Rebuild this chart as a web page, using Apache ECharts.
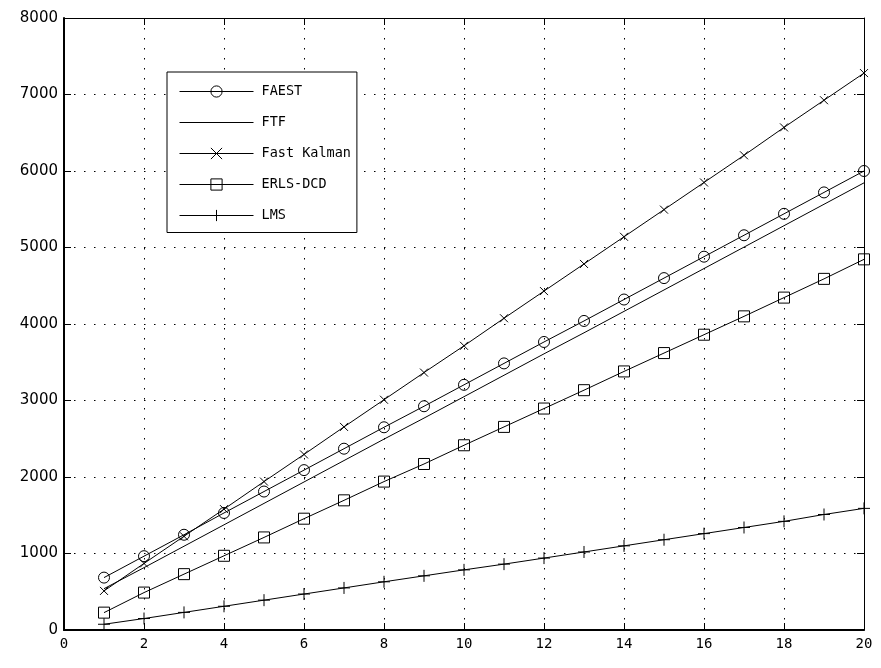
<!DOCTYPE html>
<html>
<head>
<meta charset="utf-8">
<script src="https://cdn.jsdelivr.net/npm/echarts@6/dist/echarts.min.js"></script>
<style>
  html, body { margin: 0; padding: 0; background: #fff; }
  #chart { width: 881px; height: 668px; }
</style>
</head>
<body>
<div id="chart"></div>
<script>
// Filter length values on the horizontal axis
const xValues = [1, 2, 3, 4, 5, 6, 7, 8, 9, 10, 11, 12, 13, 14, 15, 16, 17, 18, 19, 20];

// Complexity per algorithm
const faest = [685, 965, 1245, 1530, 1810, 2090, 2370, 2650, 2925, 3205, 3485, 3765, 4040, 4320, 4600, 4880, 5160, 5440, 5720, 6000];
const ftf = [540, 815, 1095, 1375, 1655, 1935, 2215, 2495, 2770, 3050, 3330, 3610, 3885, 4165, 4445, 4725, 5005, 5285, 5565, 5845];
const fastKalman = [511, 870, 1225, 1580, 1940, 2295, 2655, 3010, 3365, 3715, 4075, 4430, 4785, 5140, 5495, 5850, 6205, 6570, 6925, 7280];
const erlsDcd = [227, 489, 730, 970, 1210, 1455, 1695, 1940, 2170, 2415, 2655, 2895, 3135, 3380, 3620, 3860, 4100, 4345, 4590, 4845];
const lms = [75, 150, 230, 310, 390, 470, 550, 630, 708, 786, 861, 940, 1020, 1100, 1180, 1260, 1340, 1420, 1510, 1590];

const seriesNames = ['FAEST', 'FTF', 'Fast Kalman', 'ERLS-DCD', 'LMS'];

const xTicks = { min: 0, max: 20, interval: 2 };
const yTicks = { min: 0, max: 8000, interval: 1000 };

const FONT = 'DejaVu Sans Mono';
const crossX = 'path://M0,0L10,10M10,0L0,10';
const crossPlus = 'path://M5,0L5,10M0,5L10,5';
const clear = 'rgba(0,0,0,0)';

function pairs(vals) {
  return xValues.map((x, i) => [x, vals[i]]);
}

function lineSeries(name, vals, symbol, size) {
  return {
    name: name,
    type: 'line',
    data: pairs(vals),
    symbol: symbol,
    symbolSize: size,
    showSymbol: symbol !== 'none',
    lineStyle: { color: '#000', width: 1 },
    itemStyle: { color: clear, borderColor: '#000', borderWidth: 1 },
    emphasis: { disabled: true },
    animation: false,
    z: 3
  };
}

// The plain line entry shows no marker in the key
const legendData = seriesNames.map(n => n === 'FTF'
  ? { name: n, itemStyle: { color: clear, borderColor: clear, borderWidth: 0 } }
  : { name: n });

const dotted = { color: '#000', width: 1, type: [1.5, 8.5] };

const chart = echarts.init(document.getElementById('chart'));
chart.setOption({
  backgroundColor: '#fff',
  animation: false,
  grid: { left: 64, right: 17, top: 18, bottom: 38 },
  legend: {
    orient: 'vertical',
    left: 167,
    top: 72,
    data: legendData,
    backgroundColor: '#fff',
    borderColor: '#000',
    borderWidth: 1,
    padding: [12.5, 6, 10, 12],
    itemWidth: 74,
    itemHeight: 14,
    itemGap: 17,
    lineStyle: { color: '#000', width: 1 },
    itemStyle: { borderWidth: 1 },
    textStyle: { fontFamily: FONT, fontSize: 13.5, color: '#000', padding: [0, 0, 0, 3] },
    selectedMode: false
  },
  xAxis: [
    {
      type: 'value',
      min: xTicks.min, max: xTicks.max, interval: xTicks.interval,
      axisLine: { show: true, onZero: false, lineStyle: { color: '#000', width: 2 } },
      axisTick: { show: true, inside: true, length: 7, lineStyle: { color: '#000', width: 1 } },
      axisLabel: { color: '#000', fontFamily: FONT, fontSize: 14, margin: 7 },
      splitLine: { show: true, lineStyle: dotted }
    },
    {
      type: 'value', position: 'top',
      min: xTicks.min, max: xTicks.max, interval: xTicks.interval,
      axisLine: { show: true, onZero: false, lineStyle: { color: '#000', width: 1 } },
      axisTick: { show: true, inside: true, length: 7, lineStyle: { color: '#000' } },
      axisLabel: { show: false },
      splitLine: { show: false }
    }
  ],
  yAxis: [
    {
      type: 'value',
      min: yTicks.min, max: yTicks.max, interval: yTicks.interval,
      axisLine: { show: true, onZero: false, lineStyle: { color: '#000', width: 2 } },
      axisTick: { show: true, inside: true, length: 7, lineStyle: { color: '#000', width: 1 } },
      axisLabel: { color: '#000', fontFamily: 'DejaVu Sans', fontSize: 15, margin: 6, formatter: v => String(v) },
      splitLine: { show: true, lineStyle: dotted }
    },
    {
      type: 'value', position: 'right',
      min: yTicks.min, max: yTicks.max, interval: yTicks.interval,
      axisLine: { show: true, onZero: false, lineStyle: { color: '#000', width: 1 } },
      axisTick: { show: true, inside: true, length: 7, lineStyle: { color: '#000' } },
      axisLabel: { show: false },
      splitLine: { show: false }
    }
  ],
  series: [
    lineSeries('FAEST', faest, 'circle', 11),
    lineSeries('FTF', ftf, 'none', 0),
    lineSeries('Fast Kalman', fastKalman, crossX, 8),
    lineSeries('ERLS-DCD', erlsDcd, 'rect', 11),
    lineSeries('LMS', lms, crossPlus, 12)
  ]
});
</script>
</body>
</html>
